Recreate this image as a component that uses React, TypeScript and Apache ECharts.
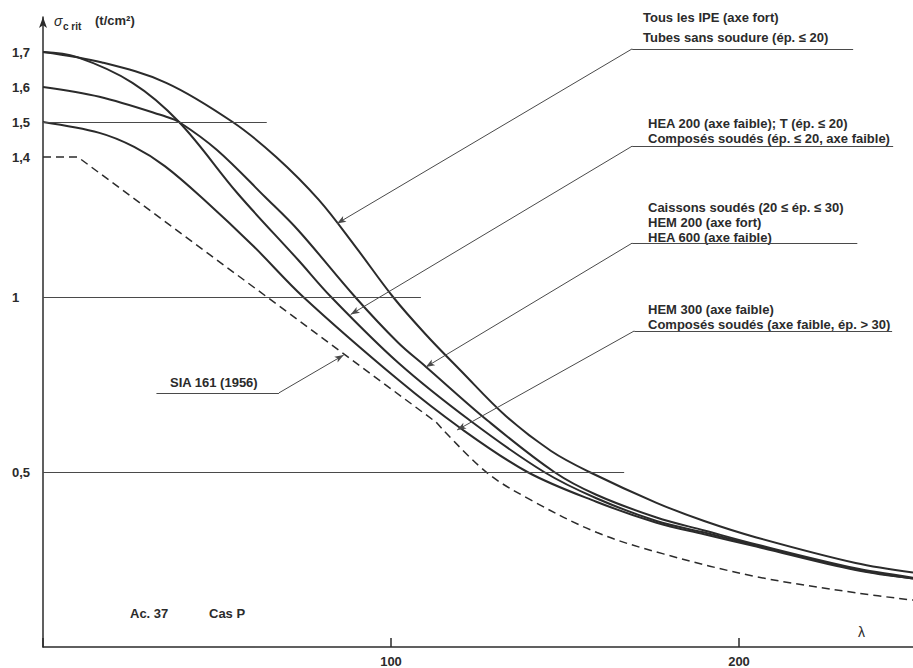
import React, { useEffect, useRef } from 'react';
import * as echarts from 'echarts';

// λ (slenderness) , σ crit (t/cm²)
const curveA = [[0, 1.70], [17, 1.67], [35.4, 1.612], [54.5, 1.50], [67, 1.40], [79.2, 1.278], [90, 1.141], [100.6, 1.0], [110, 0.893], [120, 0.79], [133, 0.66], [146, 0.56], [157, 0.50], [176.3, 0.412], [190, 0.36], [205, 0.313], [233.5, 0.24], [250, 0.213]];
const curveB = [[0, 1.70], [9.6, 1.686], [25.7, 1.612], [39.1, 1.50], [56, 1.295], [73.4, 1.105], [82.8, 1.0], [102, 0.813], [123, 0.645], [144, 0.50], [159, 0.425], [176.3, 0.36], [190, 0.327], [205, 0.29], [233.5, 0.222], [250, 0.196]];
const curveC = [[0, 1.60], [16.2, 1.572], [35.4, 1.515], [39.1, 1.50], [50, 1.42], [63.9, 1.285], [73.4, 1.19], [89.7, 1.0], [102, 0.870], [110, 0.801], [128, 0.645], [146.9, 0.50], [159, 0.435], [176.3, 0.37], [190, 0.333], [205, 0.293], [233.5, 0.225], [250, 0.198]];
const curveD = [[0, 1.50], [16.2, 1.469], [26.2, 1.429], [35, 1.374], [46.3, 1.278], [60.5, 1.145], [74.8, 1.0], [102, 0.764], [120, 0.625], [139.2, 0.50], [159, 0.415], [176.3, 0.355], [190, 0.322], [205, 0.287], [233.5, 0.22], [250, 0.196]];
const siaLinear = [[0, 1.40], [10, 1.40], [113, 0.642]];
const siaEuler = [[113, 0.642], [127.2, 0.501], [140, 0.421], [159.2, 0.327], [178.3, 0.266], [205, 0.201], [233.5, 0.155], [250, 0.134]];

const refLines = [
  { sigma: 1.5, lambdaEnd: 64.3 },
  { sigma: 1.0, lambdaEnd: 108.6 },
  { sigma: 0.5, lambdaEnd: 167 },
];

const yTickLabels: Record<number, string> = { 5: '0,5', 10: '1', 14: '1,4', 15: '1,5', 16: '1,6', 17: '1,7' };
const xTickLabels = [100, 200];

const leaders = [
  { start: [232.8, 1.709], knee: [169.3, 1.709], tip: [84.5, 1.21] },
  { start: [244.3, 1.431], knee: [169.3, 1.431], tip: [88.4, 0.95] },
  { start: [234, 1.154], knee: [169.3, 1.154], tip: [110, 0.80] },
  { start: [244, 0.903], knee: [169.9, 0.903], tip: [119, 0.62] },
  { start: [32.6, 0.726], knee: [67.8, 0.726], tip: [86.4, 0.834] },
];

const annotations = [
  { text: 'Tous les IPE (axe fort)', x: 643, y: 17 },
  { text: 'Tubes sans soudure (ép. ≤ 20)', x: 643, y: 37 },
  { text: 'HEA 200 (axe faible); T (ép. ≤ 20)', x: 648, y: 123 },
  { text: 'Composés soudés (ép. ≤ 20, axe faible)', x: 648, y: 138 },
  { text: 'Caissons soudés (20 ≤ ép. ≤ 30)', x: 648, y: 207 },
  { text: 'HEM 200 (axe fort)', x: 648, y: 222 },
  { text: 'HEA 600 (axe faible)', x: 648, y: 237 },
  { text: 'HEM 300 (axe faible)', x: 648, y: 309 },
  { text: 'Composés soudés (axe faible, ép. > 30)', x: 648, y: 324 },
  { text: 'SIA 161 (1956)', x: 170, y: 382 },
  { text: 'Ac. 37', x: 130, y: 613 },
  { text: 'Cas P', x: 209, y: 613 },
];

const FONT = '"Liberation Sans", Arial, Helvetica, sans-serif';
const INK = '#2b2b2b';

export default function App() {
  const ref = useRef<HTMLDivElement>(null);
  useEffect(() => {
    if (!ref.current) return;
    const chart = echarts.init(ref.current, null, { renderer: 'svg' });

    const curveStyle = { color: INK, width: 2 };
    const mkCurve = (name: string, data: number[][], extra: any = {}) => ({
      name,
      type: 'line',
      data,
      symbol: 'none',
      showSymbol: false,
      smooth: 0.35,
      lineStyle: curveStyle,
      silent: true,
      z: 3,
      ...extra,
    });

    const markData: any[] = [];
    refLines.forEach((r) => {
      markData.push([
        { coord: [0, r.sigma], symbol: 'none' },
        { coord: [r.lambdaEnd, r.sigma], symbol: 'none' },
      ]);
    });
    leaders.forEach((l) => {
      markData.push([
        { coord: l.start, symbol: 'none' },
        { coord: l.knee, symbol: 'none' },
      ]);
      markData.push([
        { coord: l.knee, symbol: 'none' },
        { coord: l.tip, symbol: 'arrow', symbolSize: [5, 9] },
      ]);
    });

    const textEl = (t: { text: string; x: number; y: number }) => ({
      type: 'text',
      x: t.x,
      y: t.y,
      silent: true,
      style: {
        text: t.text,
        fill: INK,
        font: `bold 13px ${FONT}`,
        verticalAlign: 'middle',
        align: 'left',
      },
    });

    chart.setOption({
      animation: false,
      backgroundColor: '#ffffff',
      grid: { left: 43, top: 17, width: 874, height: 630, containLabel: false },
      xAxis: {
        type: 'value',
        min: 0,
        max: 250,
        interval: 100,
        axisLine: { show: true, onZero: false, lineStyle: { color: INK, width: 1.5 } },
        axisTick: { show: true, inside: true, length: 9, lineStyle: { color: INK, width: 1.5 } },
        splitLine: { show: false },
        axisLabel: {
          margin: 8,
          color: INK,
          fontFamily: FONT,
          fontWeight: 'bold',
          fontSize: 13,
          showMaxLabel: false,
          formatter: (v: number) => (xTickLabels.includes(v) ? String(v) : ''),
        },
      },
      yAxis: {
        type: 'value',
        min: 0,
        max: 1.8,
        interval: 0.1,
        axisLine: {
          show: true,
          onZero: false,
          symbol: ['none', 'arrow'],
          symbolSize: [6, 11],
          lineStyle: { color: INK, width: 1.5 },
        },
        axisTick: { show: false },
        splitLine: { show: false },
        axisLabel: {
          margin: 31,
          align: 'left',
          color: INK,
          fontFamily: FONT,
          fontWeight: 'bold',
          fontSize: 13,
          formatter: (v: number) => yTickLabels[Math.round(v * 10)] || '',
        },
      },
      series: [
        mkCurve('A', curveA, {
          markLine: {
            silent: true,
            symbol: ['none', 'none'],
            label: { show: false },
            emphasis: { disabled: true },
            lineStyle: { color: '#4a4a4a', width: 1, type: 'solid' },
            data: markData,
          },
        }),
        mkCurve('B', curveB),
        mkCurve('C', curveC),
        mkCurve('D', curveD),
        mkCurve('SIA1', siaLinear, { smooth: false, lineStyle: { color: INK, width: 1.5, type: [8, 5] } }),
        mkCurve('SIA2', siaEuler, { lineStyle: { color: INK, width: 1.5, type: [8, 5] } }),
      ],
      graphic: [
        ...annotations.map(textEl),
        {
          type: 'text', x: 54, y: 21, silent: true,
          style: { text: 'σ', fill: INK, font: `italic 14px ${FONT}`, verticalAlign: 'middle' },
        },
        {
          type: 'text', x: 63, y: 26, silent: true,
          style: { text: 'c rit', fill: INK, font: `bold 10px ${FONT}`, verticalAlign: 'middle' },
        },
        {
          type: 'text', x: 95, y: 20, silent: true,
          style: { text: '(t/cm²)', fill: INK, font: `bold 13px ${FONT}`, verticalAlign: 'middle' },
        },
        {
          type: 'text', x: 858, y: 632, silent: true,
          style: { text: 'λ', fill: INK, font: `14px ${FONT}`, verticalAlign: 'middle' },
        },
      ],
    });
    return () => chart.dispose();
  }, []);

  return (
    <div
      ref={ref}
      style={{ position: 'absolute', left: 0, top: 0, width: 913, height: 668, background: '#fff' }}
    />
  );
}
